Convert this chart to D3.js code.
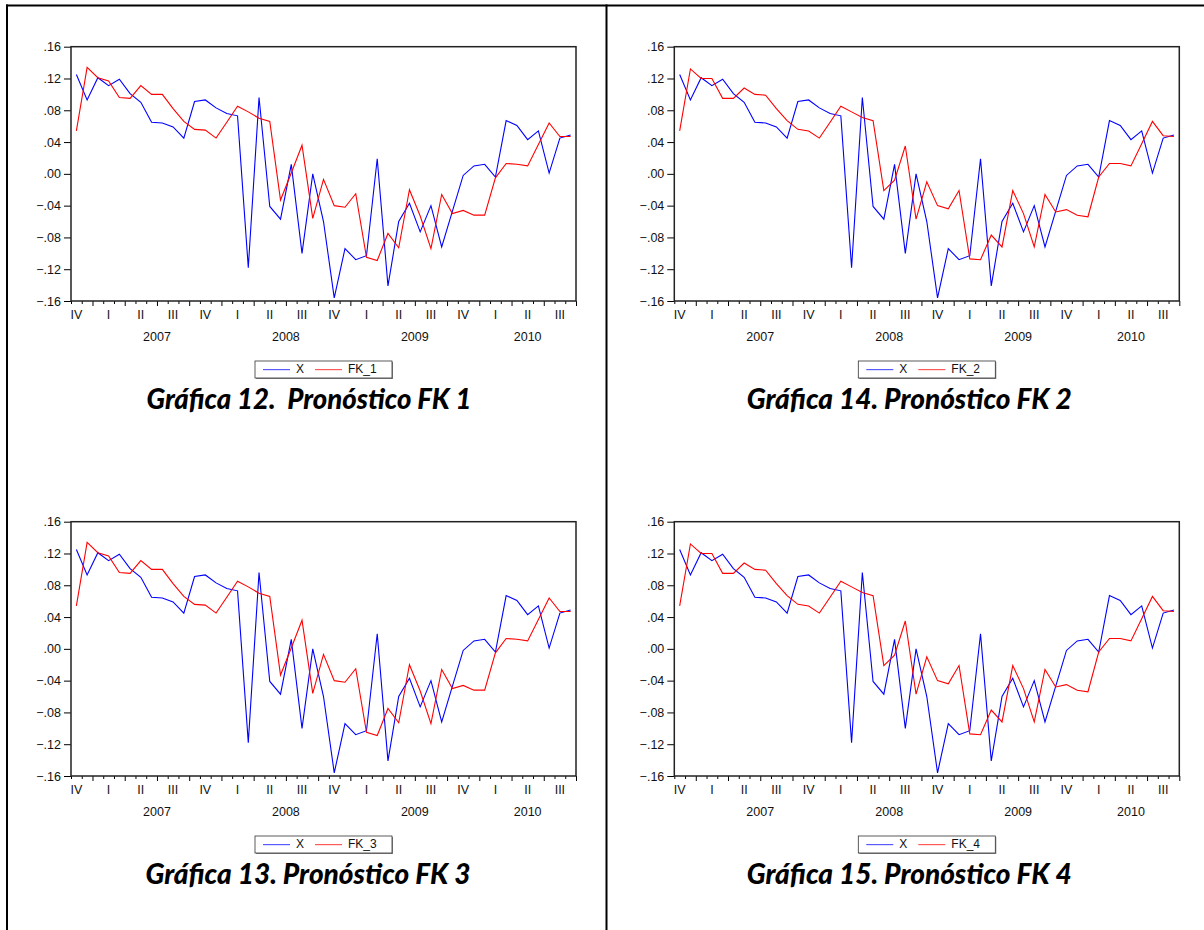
<!DOCTYPE html>
<html>
<head>
<meta charset="utf-8">
<script src="https://cdn.jsdelivr.net/npm/d3@7"></script>
<style>
  body { margin: 0; background: #fff; }
  svg { display: block; }
</style>
</head>
<body>
<script>
// monthly observations, first one is 2006M11, last one 2010M09
const firstYear = 2006;
const firstMonth = 11;

const X = [0.125, 0.093, 0.121, 0.111, 0.119, 0.101, 0.090, 0.065, 0.064, 0.059,
  0.045, 0.091, 0.093, 0.083, 0.076, 0.073, -0.118, 0.096, -0.041, -0.057,
  0.012, -0.100, 0.000, -0.060, -0.156, -0.094, -0.108, -0.103, 0.019, -0.141,
  -0.060, -0.037, -0.073, -0.040, -0.092, -0.047, -0.002, 0.010, 0.012, -0.004,
  0.067, 0.061, 0.043, 0.054, 0.001, 0.045, 0.049];

const FK_1 = [0.054, 0.134, 0.121, 0.117, 0.096, 0.095, 0.111, 0.100, 0.100, 0.082,
  0.066, 0.056, 0.055, 0.045, 0.065, 0.085, 0.078, 0.070, 0.066, -0.033,
  0.001, 0.036, -0.056, -0.007, -0.040, -0.042, -0.025, -0.105, -0.109, -0.075,
  -0.093, -0.020, -0.053, -0.094, -0.026, -0.050, -0.046, -0.052, -0.052, -0.005,
  0.013, 0.012, 0.010, 0.037, 0.064, 0.047, 0.047];

const FK_2 = [0.054, 0.132, 0.120, 0.120, 0.095, 0.095, 0.108, 0.100, 0.099, 0.082,
  0.067, 0.056, 0.054, 0.045, 0.065, 0.085, 0.078, 0.071, 0.067, -0.021,
  -0.008, 0.035, -0.057, -0.010, -0.040, -0.044, -0.021, -0.107, -0.108, -0.077,
  -0.092, -0.021, -0.050, -0.092, -0.026, -0.048, -0.045, -0.052, -0.054, -0.004,
  0.013, 0.013, 0.010, 0.038, 0.066, 0.048, 0.047];

const FK_3 = [0.054, 0.134, 0.121, 0.117, 0.096, 0.095, 0.111, 0.100, 0.100, 0.082,
  0.066, 0.056, 0.055, 0.045, 0.065, 0.085, 0.078, 0.070, 0.066, -0.033,
  0.001, 0.036, -0.056, -0.007, -0.040, -0.042, -0.025, -0.105, -0.109, -0.075,
  -0.093, -0.020, -0.053, -0.094, -0.026, -0.050, -0.046, -0.052, -0.052, -0.005,
  0.013, 0.012, 0.010, 0.037, 0.064, 0.047, 0.047];

const FK_4 = [0.054, 0.132, 0.120, 0.120, 0.095, 0.095, 0.108, 0.100, 0.099, 0.082,
  0.067, 0.056, 0.054, 0.045, 0.065, 0.085, 0.078, 0.071, 0.067, -0.021,
  -0.008, 0.035, -0.057, -0.010, -0.040, -0.044, -0.021, -0.107, -0.108, -0.077,
  -0.092, -0.021, -0.050, -0.092, -0.026, -0.048, -0.045, -0.052, -0.054, -0.004,
  0.013, 0.013, 0.010, 0.038, 0.066, 0.048, 0.047];

const yTicks = [0.16, 0.12, 0.08, 0.04, 0.00, -0.04, -0.08, -0.12, -0.16];
const quarterLabels = ["I", "II", "III", "IV"];
const yearLabels = ["2007", "2008", "2009", "2010"];

const panels = [
  { name: "FK_1", values: FK_1, title: "Gráfica 12.  Pronóstico FK 1", dx: 0, dy: 0, tx: 309 },
  { name: "FK_2", values: FK_2, title: "Gráfica 14. Pronóstico FK 2", dx: 603.3, dy: 0, tx: 306 },
  { name: "FK_3", values: FK_3, title: "Gráfica 13. Pronóstico FK 3", dx: 0, dy: 475, tx: 308 },
  { name: "FK_4", values: FK_4, title: "Gráfica 15. Pronóstico FK 4", dx: 603.3, dy: 475, tx: 306 }
];

const width = 1204;
const height = 930;
const plot = { left: 71, top: 46.7, width: 505, height: 254.3 };
const axisFont = "Liberation Sans";
const axisSize = "12.5px";

// year / month of every observation
const periods = X.map((_, i) => {
  const m = firstMonth - 1 + i;
  return { year: firstYear + Math.floor(m / 12), month: (m % 12) + 1 };
});

const svg = d3.select("body")
  .append("svg")
  .attr("width", width)
  .attr("height", height);

svg.append("rect").attr("width", width).attr("height", height).attr("fill", "#fff");

// table borders
svg.append("line").attr("x1", 6).attr("x2", width).attr("y1", 5.5).attr("y2", 5.5)
  .style("stroke", "#000").attr("stroke-width", 2);
svg.append("line").attr("x1", 7).attr("x2", 7).attr("y1", 4.5).attr("y2", height)
  .style("stroke", "#000").attr("stroke-width", 2);
svg.append("line").attr("x1", 606.5).attr("x2", 606.5).attr("y1", 4.5).attr("y2", height)
  .style("stroke", "#000").attr("stroke-width", 2);

const xScale = d3.scaleLinear()
  .domain([-0.5, X.length - 0.5])
  .range([0, plot.width]);

const yScale = d3.scaleLinear()
  .domain([-0.16, 0.16])
  .range([plot.height, 0]);

function yFormat(v) {
  return d3.format(".2f")(v).replace("0.", ".");
}

// month boundaries, major ones at start of each quarter
const boundaries = d3.range(X.length + 1).map((k) => {
  const m = ((firstMonth - 1 + k) % 12) + 1;
  return { pos: k - 0.5, major: (m - 1) % 3 === 0 };
});

function axisText(sel) {
  sel.attr("font-family", axisFont)
    .attr("font-size", axisSize)
    .style("fill", "#111");
}

function drawPanel(p) {
  const g = svg.append("g")
    .attr("transform", "translate(" + (p.dx + plot.left) + "," + (p.dy + plot.top) + ")");

  // y axis
  const yAxis = d3.axisLeft(yScale)
    .tickValues(yTicks)
    .tickFormat(yFormat)
    .tickSize(7)
    .tickPadding(3);
  const ya = g.append("g").call(yAxis);
  ya.attr("font-family", null).attr("font-size", null);
  ya.select(".domain").remove();
  ya.selectAll("line").style("stroke", "#000");
  ya.selectAll("text").call(axisText);

  // x axis: monthly minor ticks, quarterly major ticks
  const minorAxis = d3.axisBottom(xScale)
    .tickValues(boundaries.filter((b) => !b.major).map((b) => b.pos))
    .tickFormat("")
    .tickSize(3)
    .tickSizeOuter(0);
  const majorAxis = d3.axisBottom(xScale)
    .tickValues(boundaries.filter((b) => b.major).map((b) => b.pos))
    .tickFormat("")
    .tickSize(5)
    .tickSizeOuter(0);
  [minorAxis, majorAxis].forEach((ax) => {
    const xa = g.append("g").attr("transform", "translate(0," + plot.height + ")").call(ax);
    xa.select(".domain").remove();
    xa.selectAll("line").style("stroke", "#000");
  });

  // quarter labels, centred on the middle month of each quarter
  const quarterMid = periods
    .map((d, i) => ({ i, d }))
    .filter((o) => o.d.month % 3 === 2);
  g.append("g")
    .selectAll("text")
    .data(quarterMid)
    .join("text")
    .attr("x", (o) => xScale(o.i))
    .attr("y", plot.height + 15)
    .attr("text-anchor", "middle")
    .attr("dominant-baseline", "middle")
    .call(axisText)
    .text((o) => quarterLabels[(o.d.month - 2) / 3]);

  // year labels
  const years = yearLabels.map((y) => {
    const idx = periods.map((d, i) => (String(d.year) === y ? i : -1)).filter((i) => i >= 0);
    return { label: y, c: (d3.min(idx) + d3.max(idx)) / 2 };
  });
  g.append("g")
    .selectAll("text")
    .data(years)
    .join("text")
    .attr("x", (d) => xScale(d.c))
    .attr("y", plot.height + 37)
    .attr("text-anchor", "middle")
    .attr("dominant-baseline", "middle")
    .call(axisText)
    .text((d) => d.label);

  // series
  const line = d3.line()
    .x((d, i) => xScale(i))
    .y((d) => yScale(d));

  g.append("path")
    .datum(X)
    .attr("d", line)
    .style("fill", "none")
    .style("stroke", "#0000ff")
    .attr("stroke-width", 1.1);

  g.append("path")
    .datum(p.values)
    .attr("d", line)
    .style("fill", "none")
    .style("stroke", "#ff0000")
    .attr("stroke-width", 1.1);

  // plot frame
  g.append("rect")
    .attr("x", 0)
    .attr("y", 0)
    .attr("width", plot.width)
    .attr("height", plot.height)
    .style("fill", "none")
    .style("stroke", "#222")
    .attr("stroke-width", 1.5);

  // legend
  const lg = g.append("g")
    .attr("transform", "translate(" + (plot.width / 2 - 68.5) + "," + (plot.height + 60) + ")");
  lg.append("rect").attr("x", 1).attr("y", 1).attr("width", 137).attr("height", 17)
    .style("fill", "#888");
  lg.append("rect").attr("x", 0).attr("y", 0).attr("width", 137).attr("height", 17)
    .style("fill", "#fff").style("stroke", "#333").attr("stroke-width", 0.8);
  const items = [
    { label: "X", color: "#5a5aff", x: 8 },
    { label: p.name, color: "#ff5a5a", x: 60 }
  ];
  items.forEach((it) => {
    lg.append("rect")
      .attr("x", it.x)
      .attr("y", 8)
      .attr("width", 27)
      .attr("height", 1.2)
      .style("fill", it.color);
    lg.append("text")
      .attr("x", it.x + 33)
      .attr("y", 9)
      .attr("dominant-baseline", "middle")
      .attr("font-family", axisFont)
      .attr("font-size", "12px")
      .style("fill", "#111")
      .text(it.label);
  });

  // caption
  const t = svg.append("text")
    .attr("x", p.dx + p.tx)
    .attr("y", p.dy + 398)
    .attr("text-anchor", "middle")
    .attr("dominant-baseline", "central")
    .attr("font-family", "Lato, 'Open Sans', sans-serif")
    .attr("font-weight", "900")
    .attr("font-style", "italic")
    .attr("font-size", "24px")
    .style("white-space", "pre")
    .style("fill", "#000")
    .text(p.title);
  const len = t.node().getComputedTextLength();
  t.attr("font-size", (24 * 325 / len).toFixed(2) + "px");
}

panels.forEach(drawPanel);
</script>
</body>
</html>
